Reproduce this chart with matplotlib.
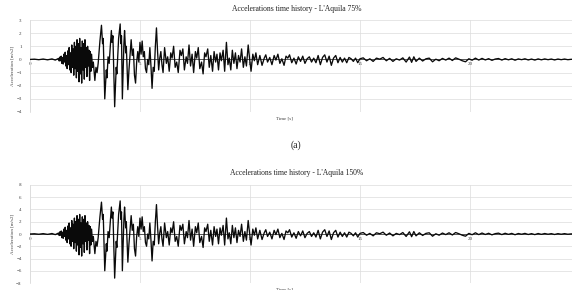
import numpy as np
import matplotlib
matplotlib.use('Agg')
import matplotlib.pyplot as plt

plt.rcParams['font.family'] = ['Liberation Serif', 'DejaVu Serif']

# L'Aquila record scaled to 75%, in m/s2
# quiet start
time_pre = [0, 0.2, 0.4, 0.6, 0.8, 1.0, 1.15]
acc_pre = [0, 0.02, -0.02, 0.03, -0.03, 0.04, -0.05]

# first burst
time_burst = [
    1.30, 1.33, 1.36, 1.39, 1.42, 1.45, 1.48, 1.51, 1.54, 1.57, 1.60, 1.63,
    1.66, 1.69, 1.72, 1.75, 1.78, 1.81, 1.84, 1.87, 1.90, 1.93, 1.96, 1.99,
    2.02, 2.05, 2.08, 2.11, 2.14, 2.17, 2.20, 2.23, 2.26, 2.29, 2.32, 2.35,
    2.38, 2.41, 2.44, 2.47, 2.50, 2.53, 2.56, 2.59, 2.62, 2.65, 2.68, 2.71,
    2.74, 2.77, 2.80, 2.84, 2.88,
]
acc_burst = [
    0.08, -0.12, 0.18, -0.1, 0.25, -0.3, 0.15, -0.35, 0.4, -0.2, 0.55, -0.5,
    0.3, -0.7, 0.65, -0.4, 0.9, -0.8, 0.5, -1.0, 1.1, -0.6, 0.8, -1.2,
    1.3, -0.7, 1.0, -1.4, 1.5, -0.9, 1.2, -1.7, 1.6, -1.1, 0.9, -1.8,
    1.4, -0.8, 1.2, -1.5, 1.5, -0.6, 0.9, -1.3, 1.0, -0.5, 0.7, -1.6,
    0.6, -0.9, 0.4, -0.6, -0.2,
]

# strong motion
time_strong = [
    2.95, 3.0, 3.05, 3.1, 3.18, 3.25, 3.3, 3.33, 3.4, 3.47, 3.5, 3.55, 3.6,
    3.7, 3.73, 3.77, 3.85, 3.92, 3.95, 4.03, 4.1, 4.13, 4.16, 4.2, 4.27, 4.3,
    4.35, 4.38, 4.45, 4.5, 4.55, 4.6, 4.65, 4.7, 4.75, 4.8, 4.85, 4.9, 4.95,
    5.0, 5.05, 5.1, 5.15, 5.2, 5.25, 5.3, 5.35, 5.4, 5.45, 5.5, 5.55, 5.6,
    5.65, 5.7, 5.75, 5.8, 5.85, 5.9, 5.95, 6.0, 6.05,
]
acc_strong = [
    -1.6, -0.6, -1.0, -0.3, 1.4, 2.6, 1.2, 1.6, -3.0, -0.8, -1.4, 0.2, -0.3,
    2.2, 1.3, 1.8, -3.6, -0.6, -1.1, 1.6, 2.7, 1.2, 1.8, -3.0, 1.2, 2.2,
    0.5, 1.0, -2.3, -0.8, 0.4, 1.5, 0.3, 0.8, -1.2, -1.8, -0.2, 0.6, -0.2,
    1.3, 0.4, 1.4, 0.2, 0.6, -0.7, -1.0, 0.0, -0.4, 0.9, -0.5, -2.2, -0.6,
    -0.9, 1.0, 2.4, 0.6, -0.8, 0.1, 0.6, -0.4, -1.0,
]

# coda
time_coda = [
    6.12, 6.2, 6.26, 6.33, 6.4, 6.46, 6.53, 6.6, 6.67, 6.74, 6.82, 6.88,
    6.95, 7.02, 7.1, 7.16, 7.23, 7.3, 7.37, 7.44, 7.52, 7.58, 7.65, 7.72,
    7.8, 7.87, 7.94, 8.0, 8.08, 8.15, 8.22, 8.3, 8.37, 8.44, 8.5, 8.57,
    8.64, 8.7, 8.78, 8.85, 8.93, 9.0, 9.06, 9.13, 9.2, 9.27, 9.34, 9.41,
    9.48, 9.55, 9.62, 9.7, 9.77, 9.84, 9.92, 10.0, 10.05, 10.13, 10.2,
    10.27, 10.35,
    10.45, 10.55, 10.65, 10.72, 10.8, 10.9, 11.0, 11.1, 11.18, 11.27, 11.36,
    11.45, 11.55, 11.64, 11.72, 11.8, 11.9, 12.0, 12.1, 12.2, 12.3, 12.4,
    12.5, 12.6, 12.7, 12.8, 12.9, 13.0, 13.1, 13.2, 13.3, 13.4, 13.5, 13.6,
    13.7, 13.8, 13.9, 14.0, 14.1, 14.2, 14.3, 14.4, 14.5, 14.6, 14.7, 14.8,
    14.9, 15.0,
]
acc_coda = [
    0.9, -0.3, 0.2, -0.9, 0.5, 0.1, 1.0, -0.6, -0.2, -1.0, 0.7, 0.3,
    0.8, -0.8, 0.2, -0.3, 1.1, -0.5, 0.4, -1.0, 0.6, 0.1, 0.9, -0.7,
    -0.2, -1.1, 0.5, 0.2, 0.8, -0.6, 0.3, -0.9, 0.6, -0.2, 0.4, -0.8,
    0.5, -0.1, 0.7, -0.9, 1.3, -0.4, 0.1, -0.8, 0.7, -0.3, 0.5, -0.7,
    0.3, -0.2, 0.8, -0.6, 0.2, -0.5, 1.1, -0.2, -0.9, 0.4, -0.1,
    0.5, -0.4,
    0.3, -0.45, 0.1, 0.35, -0.2, 0.15, -0.4, 0.3, -0.05, 0.4, -0.3,
    0.05, -0.45, 0.25, 0.1, 0.35, -0.25, 0.1, -0.35, 0.2, -0.15, 0.25,
    -0.3, 0.05, 0.2, -0.2, 0.1, -0.25, 0.3, -0.4, 0.15, 0.35, -0.2, 0.25,
    -0.45, 0.1, 0.3, -0.25, 0.15, -0.2, 0.1, -0.25, 0.15, 0.05, -0.15, 0.1,
    -0.25, 0.05,
]

# tail
time_tail = [
    15.15, 15.3, 15.45, 15.6, 15.75, 15.9, 16.05, 16.2, 16.35, 16.5, 16.65,
    16.8, 16.95, 17.1, 17.25, 17.35, 17.45, 17.55, 17.7, 17.85, 18.0, 18.15,
    18.3, 18.45, 18.6, 18.75, 18.9, 19.05, 19.2, 19.35, 19.5, 19.65, 19.8,
    19.95, 20.1, 20.25, 20.4, 20.55, 20.7, 20.85, 21.0, 21.15, 21.3, 21.45,
    21.6, 21.75, 21.9, 22.05, 22.2, 22.35, 22.5, 22.65, 22.8, 22.95, 23.1,
    23.25, 23.4, 23.55, 23.7, 23.85, 24.0, 24.15, 24.3, 24.45, 24.6, 24.8,
]
acc_tail = [
    0.12, -0.1, 0.05, -0.15, 0.1, 0.02, 0.15, -0.1, 0.08, -0.15, 0.05,
    -0.05, 0.12, -0.2, 0.18, -0.22, 0.2, -0.15, 0.1, -0.12, 0.05, 0.1,
    -0.18, 0.02, -0.1, 0.08, -0.05, 0.1, -0.08, 0.12, 0.02, -0.1, -0.18,
    0.05, -0.06, 0.1, -0.05, 0.08, -0.04, 0.06, -0.07, 0.03, 0.07, -0.05,
    0.06, -0.03, 0.05, -0.06, 0.04, -0.02, 0.05, -0.04, 0.03, -0.05, 0.04,
    -0.03, 0.04, -0.02, 0.03, -0.04, 0.03, -0.02, 0.03, -0.02, 0.01, 0,
]

time_s = time_pre + time_burst + time_strong + time_coda + time_tail
accel_75 = acc_pre + acc_burst + acc_strong + acc_coda + acc_tail

# the lower chart is the same record at 150% instead of 75%
panels = [
    ("Accelerations time history - L'Aquila 75%", 75, (-4, 3), 1),
    ("Accelerations time history - L'Aquila 150%", 150, (-8, 8), 2),
]
x_ticks = [0, 5, 10, 15, 20]

fig = plt.figure(figsize=(5.72, 2.90), dpi=100)
fig.patch.set_facecolor('white')

axes_boxes = [
    [0.0524, 0.6138, 0.9476, 0.3172],
    [0.0524, 0.0241, 0.9476, 0.3380],
]
title_y = [0.969, 0.403]
grid_col = '#dcdcdc'
text_col = '#404040'

t = np.array(time_s)
for (title, scale, ylim, ystep), box, ty in zip(panels, axes_boxes, title_y):
    ax = fig.add_axes(box)
    acc = np.array(accel_75) * scale / 75.0
    ax.plot(t, acc, color='#0a0a0a', lw=0.95, zorder=3)

    ax.set_xlim(0, 24.64)
    ax.set_ylim(*ylim)
    ax.set_xticks(x_ticks)
    ax.set_yticks(np.arange(ylim[0], ylim[1] + 0.1, ystep))
    ax.grid(True, color=grid_col, lw=0.5)

    for side in ['top', 'right']:
        ax.spines[side].set_visible(False)
    ax.spines['left'].set_color(grid_col)
    ax.spines['left'].set_linewidth(0.6)
    ax.spines['bottom'].set_position(('data', 0))
    ax.spines['bottom'].set_color('#555555')
    ax.spines['bottom'].set_linewidth(0.7)

    ax.tick_params(length=0, labelsize=3.6, labelcolor=text_col, pad=6)
    ax.tick_params(axis='x', pad=2)

    ax.set_ylabel('Acceleration [m/s2]', fontsize=3.6, color=text_col, labelpad=1)
    ax.text(0.47, -0.045, 'Time [s]', transform=ax.transAxes, ha='center',
            va='top', fontsize=3.6, color=text_col)

    fig.text(0.519, ty, title, ha='center', va='center', fontsize=5.5,
             color='#222222')

fig.text(0.517, 0.5, '(a)', ha='center', va='center', fontsize=7,
         color='#222222')

fig.savefig('out.png', dpi=100)
plt.close(fig)
